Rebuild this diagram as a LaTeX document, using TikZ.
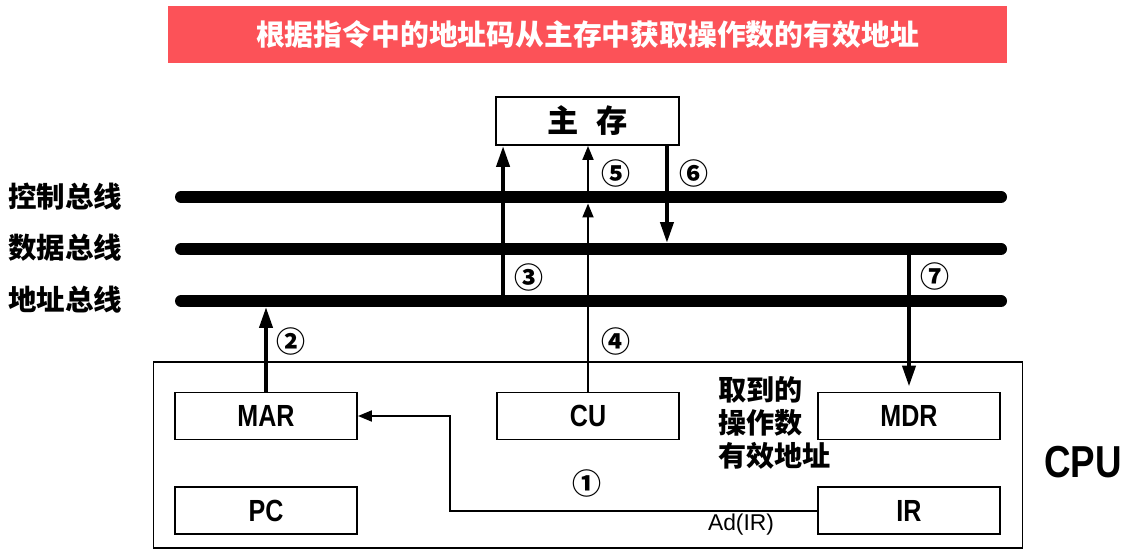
\documentclass[tikz,border=0pt]{standalone}
\usepackage{fontspec}
\newfontfamily\cjk{Noto Sans CJK SC}
\newfontfamily\narrow[FakeStretch=0.82]{Liberation Sans}
\newfontfamily\plainsans{Liberation Sans}
\usetikzlibrary{arrows.meta,positioning}
\definecolor{titlered}{RGB}{252,82,88}

\begin{document}
\begin{tikzpicture}[
    x=0.02cm, y=-0.02cm,
    font=\cjk\bfseries,
    reg/.style={
        rectangle,
        draw=black,
        line width=1.1pt,
        minimum width=3.64cm,
        minimum height=0.94cm,
        font=\narrow\bfseries\fontsize{17.4}{19}\selectfont
    },
    bus/.style={
        line width=0.24cm,
        line cap=round
    },
    busname/.style={
        anchor=west,
        font=\cjk\bfseries\fontsize{16.2}{18}\selectfont
    },
    fatarr/.style={
        line width=2.3pt,
        -{Triangle[length=0.42cm,width=0.26cm]}
    },
    arr/.style={
        line width=1.1pt,
        -{Triangle[length=0.28cm,width=0.22cm]}
    },
    num/.style={
        font=\cjk\bfseries\fontsize{16.5}{18}\selectfont
    }
  ]

 \useasboundingbox (0,0) rectangle (1125,557);

% // title bar
 \node [fill=titlered, text=white, minimum width=16.78cm, minimum height=1.14cm,
   font=\cjk\bfseries\fontsize{16.4}{20}\selectfont] (title) at (587.5,34.5)
   {根据指令中的地址码从主存中获取操作数的有效地址};

% // main memory
 \node [draw, line width=1.1pt, minimum width=3.66cm, minimum height=0.96cm,
   font=\cjk\bfseries\fontsize{17.8}{20}\selectfont] (mem) at (587.5,121) {主\hspace{0.55em}存};
 \coordinate (m3) at ([xshift=0.16cm]mem.south west);
 \coordinate (m6) at ([xshift=-0.26cm]mem.south east);

% // the buses
 \node [busname] (ctrlname) at (2,197) {控制总线};
 \node [busname] (dataname) at (2,248) {数据总线};
 \node [busname] (addrname) at (2,300) {地址总线};
 \coordinate (cb) at (181,197); \coordinate (cbe) at (1001,197);
 \coordinate (db) at (181,249); \coordinate (dbe) at (1001,249);
 \coordinate (ab) at (181,301); \coordinate (abe) at (1001,301);
 \draw [bus] (cb) -- (cbe);
 \draw [bus] (db) -- (dbe);
 \draw [bus] (ab) -- (abe);

% // CPU
 \node [draw, line width=0.6pt, minimum width=17.4cm, minimum height=3.72cm] (cpu) at (588,455) {};
 \node [reg] (mar) at (266,416) {MAR};
 \node [reg, below=0.92cm of mar] (pc) {PC};
 \node [reg] (cu) at (588,416) {CU};
 \node [reg] (mdr) at (909,416) {MDR};
 \node [reg, below=0.92cm of mdr] (ir) {IR};
 \node [font=\narrow\bfseries\fontsize{25.5}{28}\selectfont] (cpuname) at (1083,462) {CPU};
 \node [anchor=west, align=left, font=\cjk\bfseries\fontsize{16}{18.7}\selectfont] (ea) at (712,423)
 {取到的\\操作数\\有效地址};

% // steps
 \coordinate (bend1) at ([xshift=1.84cm]mar.east);
 \draw [arr] (ir.west) -| (bend1) -- (mar.east);
 \draw [fatarr, shorten >=0.12cm] (mar.north) -- (mar.north |- ab);
 \draw [fatarr] (m3 |- ab) -- (m3);
 \draw [arr, shorten >=0.13cm] (cu.north) -- (cu.north |- cb);
 \draw [arr] (cu.north |- cb) -- (cu.north |- mem.south);
 \draw [fatarr, shorten >=0.12cm] (m6) -- (m6 |- db);
 \draw [fatarr, shorten >=0.1cm] (mdr.north |- db) -- (mdr.north);

 \node [num] (n1) at (587,483) {①};
 \node [num] (n2) at (291,341) {②};
 \node [num] (n3) at (529,277) {③};
 \node [num] (n4) at (616,341) {④};
 \node [num] (n5) at (616,173) {⑤};
 \node [num] (n6) at (694,173) {⑥};
 \node [num] (n7) at (935,276) {⑦};
 \node [font=\plainsans\fontsize{13}{15}\selectfont] (adir) at (741,525) {Ad(IR)};

\end{tikzpicture}
\end{document}
